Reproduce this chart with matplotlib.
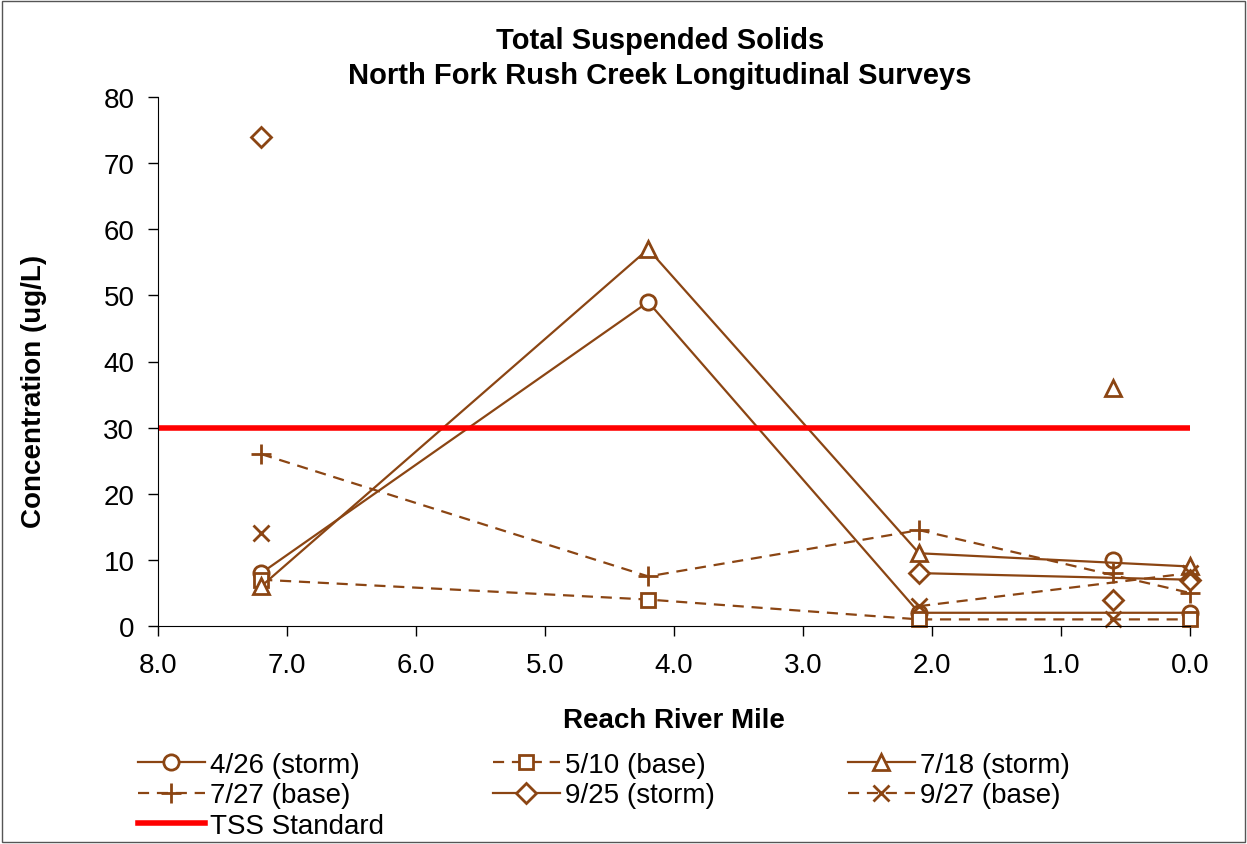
import numpy as np
import matplotlib.pyplot as plt
from matplotlib.patches import Rectangle
#------------------------------
plt.rcParams['font.family'] = ['Liberation Sans', 'DejaVu Sans']

mile = [7.2, 4.2, 2.1, 0.0]     # main stem sites, upstream -> downstream
mile_side = 0.6                  # site plotted without connecting line

apr26 = [8, 49, 2, 2]
may10 = [7, 4, 1, 1]
jul18 = [6, 57, 11, 9]
jul27 = [26, 7.5, 14.5, 5]
sep25 = [74, np.nan, 8, 7]
sep27 = [14, np.nan, 3, 8]

apr26_side = 10
may10_side = np.nan
jul18_side = 36
jul27_side = 8
sep25_side = 4
sep27_side = 1

std_x = [8.0, 0.0]
std_y = [30, 30]

labels = ["4/26 (storm)", "5/10 (base)", "7/18 (storm)",
          "7/27 (base)", "9/25 (storm)", "9/27 (base)"]
#------------------------------
brown = '#8B4513'
W, H = 1247, 845
fs = 20
fig = plt.figure(figsize=(W/100, H/100), dpi=100)
ax = fig.add_axes([158/W, 1-627/H, (1190-158)/W, (627-98)/H])

series = [(apr26, apr26_side, 'o', '-', 11),
          (may10, may10_side, 's', '--', 10),
          (jul18, jul18_side, '^', '-', 12),
          (jul27, jul27_side, '+', '--', 15),
          (sep25, sep25_side, 'D', '-', 10),
          (sep27, sep27_side, 'x', '--', 12)]

handles = []
for (vals, side, mk, ls, ms), lab in zip(series, labels):
    h, = ax.plot(mile, vals, color=brown, ls=ls, lw=1.6, marker=mk, ms=ms,
                 mfc='white', mec=brown, mew=2, label=lab, clip_on=False,
                 dashes=(5, 3.5) if ls == '--' else (None, None))
    ax.plot([mile_side], [side], ls='none', marker=mk, ms=ms,
            mfc='white', mec=brown, mew=2, clip_on=False)
    handles.append(h)

hs, = ax.plot(std_x, std_y, color='red', lw=4, label='TSS Standard')

ax.set_xlim(8, 0)
ax.set_ylim(0, 80)
ax.set_xticks(np.arange(8, -0.5, -1))
ax.set_xticklabels([f"{v:.1f}" for v in np.arange(8, -0.5, -1)])
ax.set_yticks(np.arange(0, 81, 10))
ax.tick_params(labelsize=fs, direction='out', length=7, width=1)
ax.tick_params(axis='x', pad=12)
ax.tick_params(axis='y', pad=10)
ax.spines['top'].set_visible(False)
ax.spines['right'].set_visible(False)

ax.set_xlabel("Reach River Mile", fontsize=fs, fontweight='bold')
ax.xaxis.set_label_coords(0.5, -(708-627)/529, transform=ax.transAxes)
ax.set_ylabel("Concentration (ug/L)", fontsize=fs, fontweight='bold')
ax.yaxis.set_label_coords(-(158-47)/1032, (627-391)/529, transform=ax.transAxes)

fig.text(660/W, 1-41/H, "Total Suspended Solids", ha='center', va='center',
         fontsize=21, fontweight='bold')
fig.text(660/W, 1-76/H, "North Fork Rush Creek Longitudinal Surveys", ha='center',
         va='center', fontsize=21, fontweight='bold')

cols = [([handles[0], handles[3], hs], 138),
        ([handles[1], handles[4]], 493),
        ([handles[2], handles[5]], 848)]
for hl, xp in cols:
    fig.legend(handles=hl, labels=[h.get_label() for h in hl],
               loc='upper left', bbox_to_anchor=(xp/W, 1-753/H),
               frameon=False, fontsize=fs, handlelength=2.4,
               handletextpad=0.2, labelspacing=0.16, borderaxespad=0,
               borderpad=0)

fig.patches.append(Rectangle((0.002, 0.002), 0.996, 0.996, transform=fig.transFigure,
                             fill=False, ec='#555555', lw=1))

fig.savefig('out.png', dpi=100)
